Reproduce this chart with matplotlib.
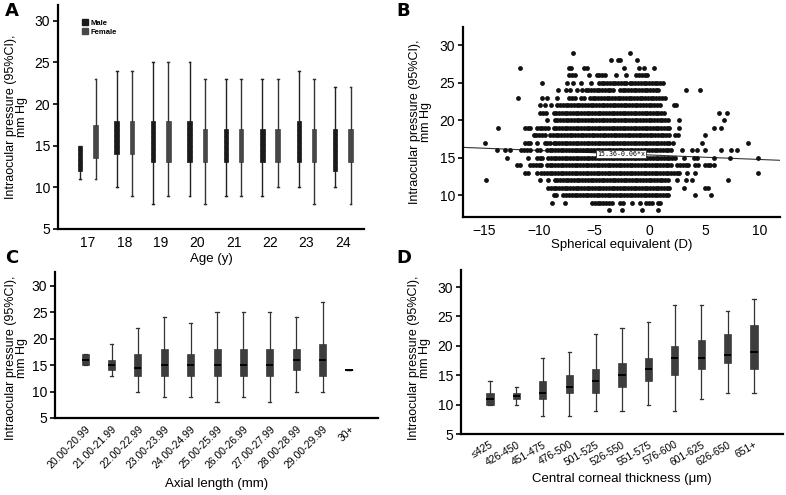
import numpy as np
import matplotlib
matplotlib.use("Agg")
import matplotlib.pyplot as plt
from matplotlib.patches import Patch

plt.rcParams['font.family'] = ['Liberation Sans', 'DejaVu Sans']
plt.rcParams['hatch.color'] = '#666666'
plt.rcParams['hatch.linewidth'] = 0.6

# ---------------- data ----------------
# A: IOP by age and sex (whisker low, q1, median, q3, whisker high)
ages = ['17', '18', '19', '20', '21', '22', '23', '24']
male_lo = [11, 10, 8, 9, 9, 9, 10, 10]
male_q1 = [12, 14, 13, 13, 13, 13, 13, 12]
male_med = [13, 16, 15, 15, 15, 15, 15, 15]
male_q3 = [15, 18, 18, 18, 17, 17, 18, 17]
male_hi = [15, 24, 25, 25, 23, 23, 24, 22]
female_lo = [11, 9, 9, 8, 9, 10, 8, 8]
female_q1 = [13.5, 14, 13, 13, 13, 13, 13, 13]
female_med = [15, 16, 15, 15, 15, 15, 15, 15]
female_q3 = [17.5, 18, 18, 17, 17, 17, 17, 17]
female_hi = [23, 24, 25, 23, 23, 23, 23, 22]

# B: IOP vs spherical equivalent, one row per IOP level
b_iop = [29, 28, 27, 26, 25, 24, 23, 22, 21, 20, 19, 18, 17, 16, 15, 14, 13, 12, 11, 10, 9, 8]
b_dense = [
    [],
    [],
    [],
    [(-7.3, -6.8), (-4.8, -3.9), (-1.2, 0.0)],
    [(-4.6, -2.1), (-1.8, 1.3)],
    [(-5.8, -3.3), (-2.7, 0.9)],
    [(-7.3, -6.8), (-5.4, 1.5)],
    [(-8.1, 1.0)],
    [(-9.9, -9.3), (-8.7, 1.5)],
    [(-8.6, 1.8)],
    [(-11.3, -10.8), (-10.2, -9.0), (-8.7, 1.8)],
    [(-10.5, -9.3), (-9.0, 1.8)],
    [(-11.3, -10.8), (-9.5, -9.0), (-8.7, 1.8)],
    [(-11.6, -10.8), (-10.2, -9.8), (-9.3, 2.1)],
    [(-10.2, -9.6), (-9.2, 2.5)],
    [(-12.0, -11.6), (-10.8, -9.8), (-9.3, 2.1), (2.5, 3.7), (5.0, 5.5)],
    [(-11.3, -11.0), (-9.8, 2.8)],
    [(-9.2, -9.0), (-8.6, 1.8)],
    [(-9.2, 1.8)],
    [(-8.7, -8.4), (-7.8, 1.8)],
    [(-5.2, -3.4), (-2.7, -2.4), (-0.3, 0.2)],
    [],
]
b_single = [
    [-6.9, -1.8],
    [-3.5, -2.9, -2.7, -1.1],
    [-11.7, -7.3, -7.1, -5.9, -5.7, -2.3, -1.0, -0.5, 0.4],
    [-5.5, -3.0, -2.1],
    [-9.7, -7.5, -6.9, -6.2, -5.3],
    [-8.3, -7.6, -7.2, -6.6, -6.1, 3.3, 4.6],
    [-11.9, -9.7, -9.3, -8.4, -6.2, -5.9],
    [-9.9, -9.5, -8.9, -8.4, 2.2, 2.4],
    [6.3, 7.0],
    [-9.3, 2.7, 6.7],
    [-13.7, 2.7, 5.8, 6.5],
    [2.3, 2.6, 5.0],
    [-14.9, -10.2, 2.1, 4.7, 8.9],
    [-13.8, -13.1, -12.6, 2.9, 3.8, 4.3, 5.0, 6.5, 7.4, 7.9],
    [-12.9, -11.0, 3.1, 4.0, 4.3, 5.8, 7.3, 9.8],
    [4.1, 4.4, 5.8],
    [-10.2, 3.4, 4.1, 9.8],
    [-14.8, -9.9, 2.5, 3.3, 3.8, 7.1],
    [3.1, 5.0, 5.3],
    [4.1, 5.6],
    [-8.8, -7.7, -1.6, -0.9, 0.8, 0.9],
    [-3.7, -2.5, -0.7, 0.8],
]
b_intercept = 15.36
b_slope = -0.06

# C: IOP by axial length
axial_labels = ['20.00-20.99', '21.00-21.99', '22.00-22.99', '23.00-23.99', '24.00-24.99',
                '25.00-25.99', '26.00-26.99', '27.00-27.99', '28.00-28.99', '29.00-29.99', '30+']
axial_lo = [15, 13, 10, 9, 9, 8, 9, 8, 10, 10, 14]
axial_q1 = [15, 14, 13, 13, 13, 13, 13, 13, 14, 13, 14]
axial_med = [16, 15, 14.5, 15, 15, 15, 15, 15, 16, 16, 14]
axial_q3 = [17, 16, 17, 18, 17, 18, 18, 18, 18, 19, 14]
axial_hi = [17, 19, 22, 24, 23, 25, 25, 25, 24, 27, 14]

# D: IOP by central corneal thickness
cct_labels = ['≤425', '426-450', '451-475', '476-500', '501-525', '526-550',
              '551-575', '576-600', '601-625', '626-650', '651+']
cct_lo = [10, 10, 8, 8, 9, 9, 10, 9, 11, 12, 12]
cct_q1 = [10, 11, 11, 12, 12, 13, 14, 15, 16, 17, 16]
cct_med = [11, 11.5, 12, 13, 14, 15, 16, 18, 18, 18.5, 19]
cct_q3 = [12, 12, 14, 15, 16, 17, 18, 20, 21, 22, 23.5]
cct_hi = [14, 13, 18, 19, 22, 23, 24, 27, 27, 26, 28]


def make_stats(lo, q1, med, q3, hi):
    return [dict(whislo=a, q1=b, med=c, q3=d, whishi=e, fliers=[])
            for a, b, c, d, e in zip(lo, q1, med, q3, hi)]


def style_axes(ax):
    for s in ['top', 'right']:
        ax.spines[s].set_visible(False)
    for s in ['left', 'bottom']:
        ax.spines[s].set_linewidth(1.6)
    ax.tick_params(axis='x', length=0, pad=5, labelsize=10)
    ax.tick_params(axis='y', length=3.5, width=1.2, pad=2, labelsize=10)


def set_ylab(ax, x, y=0.5):
    ax.set_ylabel('Intraocular pressure (95%CI),\nmm Hg', fontsize=9, linespacing=0.9)
    ax.yaxis.set_label_coords(x, y)


fig = plt.figure(figsize=(7.86, 4.95), dpi=100)

# ---------------- A ----------------
axA = fig.add_axes([0.0738, 0.5374, 0.3893, 0.4525])
pos = np.arange(len(ages))
axA.bxp(make_stats(male_lo, male_q1, male_med, male_q3, male_hi),
        positions=pos - 0.21, widths=0.12, capwidths=0.05, patch_artist=True,
        showfliers=False, manage_ticks=False,
        boxprops=dict(facecolor='#1a1a1a', edgecolor='#1a1a1a', hatch='//////', linewidth=0.5),
        medianprops=dict(color='#1a1a1a', linewidth=0),
        whiskerprops=dict(color='#222222', linewidth=1.0),
        capprops=dict(color='#222222', linewidth=1.0))
axA.bxp(make_stats(female_lo, female_q1, female_med, female_q3, female_hi),
        positions=pos + 0.21, widths=0.12, capwidths=0.05, patch_artist=True,
        showfliers=False, manage_ticks=False,
        boxprops=dict(facecolor='#474747', edgecolor='#474747', linewidth=0.5),
        medianprops=dict(color='#474747', linewidth=0),
        whiskerprops=dict(color='#333333', linewidth=1.0),
        capprops=dict(color='#333333', linewidth=1.0))
axA.set_xlim(-0.82, 7.58)
axA.set_ylim(5, 31.9)
axA.set_yticks([5, 10, 15, 20, 25, 30])
axA.set_xticks(pos)
axA.set_xticklabels(ages)
style_axes(axA)
set_ylab(axA, -0.097)
axA.set_xlabel('Age (y)', fontsize=9.5)
axA.xaxis.set_label_coords(0.5, -0.105)
axA.legend(handles=[Patch(facecolor='#1a1a1a', edgecolor='#1a1a1a', hatch='//////'),
                    Patch(facecolor='#474747', edgecolor='#474747', hatch='||||')],
           labels=['Male', 'Female'], loc='upper left', bbox_to_anchor=(0.06, 0.96),
           frameon=False, prop=dict(size=5.5, weight='bold'),
           handlelength=0.8, handleheight=0.8, handletextpad=0.3, labelspacing=0.15,
           borderpad=0.2)

# ---------------- B ----------------
axB = fig.add_axes([0.589, 0.5616, 0.4033, 0.3838])
bx, by = [], []
for iop, segs, singles in zip(b_iop, b_dense, b_single):
    for lo, hi in segs:
        xs = np.arange(lo, hi + 0.01, 0.25)
        bx.extend(xs)
        by.extend([iop] * len(xs))
    bx.extend(singles)
    by.extend([iop] * len(singles))
axB.scatter(bx, by, s=12, color='#111111', linewidths=0, zorder=3)
xl = np.array([-16.9, 11.8])
axB.plot(xl, b_intercept + b_slope * xl, color='#333333', linewidth=0.8, zorder=2)
axB.text(-2.6, 15.5, '15.36-0.06*x', fontsize=4.8, ha='center', va='center', zorder=5,
         family=['DejaVu Sans Mono', 'DejaVu Sans'],
         bbox=dict(boxstyle='square,pad=0.2', facecolor='white', edgecolor='#333333', linewidth=0.6))
axB.set_xlim(-16.9, 11.8)
axB.set_ylim(7.1, 32.4)
axB.set_xticks([-15, -10, -5, 0, 5, 10])
axB.set_yticks([10, 15, 20, 25, 30])
style_axes(axB)
set_ylab(axB, -0.098)
axB.set_xlabel('Spherical equivalent (D)', fontsize=9.5)
axB.xaxis.set_label_coords(0.5, -0.115)

# ---------------- C ----------------
axC = fig.add_axes([0.070, 0.1556, 0.411, 0.295])
posC = np.arange(len(axial_labels))
axC.bxp(make_stats(axial_lo, axial_q1, axial_med, axial_q3, axial_hi),
        positions=posC, widths=0.27, capwidths=0.12, patch_artist=True,
        showfliers=False, manage_ticks=False,
        boxprops=dict(facecolor='#3d3d3d', edgecolor='#3d3d3d', linewidth=0.5),
        medianprops=dict(color='black', linewidth=1.4),
        whiskerprops=dict(color='#333333', linewidth=0.9),
        capprops=dict(color='#333333', linewidth=0.9))
axC.set_xlim(-1.14, 11.1)
axC.set_ylim(5, 32.6)
axC.set_yticks([5, 10, 15, 20, 25, 30])
axC.set_xticks(posC)
axC.set_xticklabels(axial_labels, rotation=45, ha='right', va='top', rotation_mode='anchor')
style_axes(axC)
axC.tick_params(axis='x', labelsize=7.5, pad=4)
set_ylab(axC, -0.084, 0.41)
axC.set_xlabel('Axial length (mm)', fontsize=9.5)
axC.xaxis.set_label_coords(0.5, -0.41)

# ---------------- D ----------------
axD = fig.add_axes([0.5865, 0.1232, 0.4097, 0.3313])
posD = np.arange(len(cct_labels))
axD.bxp(make_stats(cct_lo, cct_q1, cct_med, cct_q3, cct_hi),
        positions=posD, widths=0.27, capwidths=0.12, patch_artist=True,
        showfliers=False, manage_ticks=False,
        boxprops=dict(facecolor='#3d3d3d', edgecolor='#3d3d3d', linewidth=0.5),
        medianprops=dict(color='black', linewidth=1.4),
        whiskerprops=dict(color='#333333', linewidth=0.9),
        capprops=dict(color='#333333', linewidth=0.9))
axD.set_xlim(-1.1, 11.1)
axD.set_ylim(5, 32.9)
axD.set_yticks([5, 10, 15, 20, 25, 30])
axD.set_xticks(posD)
axD.set_xticklabels(cct_labels, rotation=30, ha='right', va='top', rotation_mode='anchor')
style_axes(axD)
axD.tick_params(axis='x', labelsize=7.5, pad=4)
set_ylab(axD, -0.093, 0.463)
axD.set_xlabel('Central corneal thickness (μm)', fontsize=9.5)
axD.xaxis.set_label_coords(0.5, -0.24)

# panel letters
for lx, ly, letter in [(5, 2, 'A'), (396, 2, 'B'), (5, 249, 'C'), (396, 249, 'D')]:
    fig.text(lx / 786, 1 - ly / 495, letter, fontsize=13, fontweight='bold', va='top', ha='left',
             family=['Liberation Sans Narrow', 'DejaVu Sans'])

fig.savefig('out.png', dpi=100)
